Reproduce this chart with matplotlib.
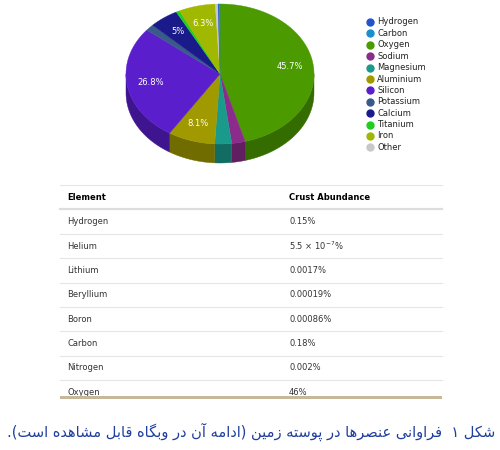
import unicodedata
import numpy as np
import matplotlib
matplotlib.use("Agg")
import matplotlib.pyplot as plt
from matplotlib.patches import Polygon
import matplotlib.colors as mc

elements = ["Hydrogen", "Carbon", "Oxygen", "Sodium", "Magnesium", "Aluminium",
            "Silicon", "Potassium", "Calcium", "Titanium", "Iron", "Other"]
colors = ["#2255cc", "#1a8fc9", "#4a9a00", "#8b2b8b", "#1a9a8a", "#a09a00",
          "#5a1ecc", "#3a5a8a", "#1a1a8a", "#22cc22", "#a0b800", "#c8c8c8"]
# clockwise order from 12 o'clock
pie_order = ["Oxygen", "Sodium", "Magnesium", "Aluminium", "Silicon", "Potassium",
             "Calcium", "Titanium", "Iron", "Other", "Hydrogen", "Carbon"]
pie_values = [45.7, 2.3, 2.9, 8.1, 26.8, 1.5, 5.0, 0.6, 6.3, 0.47, 0.15, 0.18]

table_header = ["Element", "Crust Abundance"]
table_elements = ["Hydrogen", "Helium", "Lithium", "Beryllium", "Boron", "Carbon", "Nitrogen", "Oxygen"]
table_values = ["0.15%", r"5.5 × 10$^{-7}$%", "0.0017%", "0.00019%", "0.00086%", "0.18%", "0.002%", "46%"]

caption = "شکل ۱  فراوانی عنصرها در پوسته زمین (ادامه آن در وبگاه قابل مشاهده است)."

RIGHT_ONLY = set("اآدذرزژوأإؤة")
def is_ar(c):
    return '\u0620' <= c <= '\u064A' or c in "پچژکگی"
def shape(s):
    out = []
    for i, c in enumerate(s):
        if not is_ar(c):
            out.append(c); continue
        p = s[i-1] if i > 0 else ''
        n = s[i+1] if i + 1 < len(s) else ''
        pj = bool(p) and is_ar(p) and p not in RIGHT_ONLY
        nj = bool(n) and is_ar(n) and c not in RIGHT_ONLY
        form = {(True, True): "MEDIAL", (True, False): "FINAL",
                (False, True): "INITIAL", (False, False): "ISOLATED"}[(pj, nj)]
        try:
            out.append(unicodedata.lookup(unicodedata.name(c) + " " + form + " FORM"))
        except KeyError:
            out.append(c)
    vis = ''.join(out)[::-1]
    return vis.translate(str.maketrans("()", ")("))

fig = plt.figure(figsize=(5, 4.5), dpi=100)
ax = fig.add_axes([0, 0, 1, 1])
ax.set_xlim(0, 500); ax.set_ylim(450, 0); ax.axis("off")

cx, cy, a, b, depth = 220, 74, 94, 70, 19
vals = np.array(pie_values)
cum = np.concatenate([[0], np.cumsum(vals)]) / vals.sum() * 360
cmap = dict(zip(elements, colors))

def pt(phi, dy=0):
    r = np.radians(phi)
    return cx + a * np.sin(r), cy - b * np.cos(r) + dy

# sides
for name, t1, t2 in zip(pie_order, cum[:-1], cum[1:]):
    s1, s2 = max(t1, 90), min(t2, 270)
    if s2 <= s1:
        continue
    ph = np.linspace(s1, s2, 60)
    top = [pt(p) for p in ph]
    bot = [pt(p, depth) for p in ph[::-1]]
    dark = np.array(mc.to_rgb(cmap[name])) * 0.7
    ax.add_patch(Polygon(top + bot, closed=True, fc=dark, ec=dark, lw=0.3))
# tops
for name, t1, t2 in zip(pie_order, cum[:-1], cum[1:]):
    ph = np.linspace(t1, t2, max(int((t2 - t1) * 2), 3))
    poly = [(cx, cy)] + [pt(p) for p in ph]
    ax.add_patch(Polygon(poly, closed=True, fc=cmap[name], ec=cmap[name], lw=0.3))
    v = (t2 - t1) / 360 * 100
    if v > 4:
        mid = (t1 + t2) / 2
        r = np.radians(mid)
        f = 0.75
        ax.text(cx + f * a * np.sin(r), cy - f * b * np.cos(r), f"{v:.1f}%".replace(".0%", "%"),
                color="white", fontsize=6, ha="center", va="center")

# legend
for i, (name, col) in enumerate(zip(elements, colors)):
    y = 22 + i * 11.4
    ax.plot(370, y, "o", ms=5, color=col)
    ax.text(377, y, name, fontsize=6, va="center", color="#222222")

# table
ax.plot([60, 442], [185, 185], color="#e6e6e6", lw=0.8)
ax.text(67, 197, table_header[0], fontsize=6, weight="bold", va="center")
ax.text(289, 197, table_header[1], fontsize=6, weight="bold", va="center")
ax.plot([60, 442], [209, 209], color="#dddddd", lw=1.6)
for i, (e, v) in enumerate(zip(table_elements, table_values)):
    y = 222 + i * 24.3
    ax.text(67, y, e, fontsize=6, va="center", color="#333333")
    ax.text(289, y, v, fontsize=6, va="center", color="#333333")
    if i < len(table_elements) - 1:
        ax.plot([60, 442], [y + 12, y + 12], color="#e6e6e6", lw=0.8)
ax.add_patch(Polygon([(60, 396), (442, 396), (442, 399), (60, 399)], fc="#c8b89a", ec="none", zorder=3))
ax.add_patch(Polygon([(60, 399), (442, 399), (442, 410), (60, 410)], fc="white", ec="none", zorder=3))

ax.text(495, 432, shape(caption), fontsize=10.5, color="#1f3f9f", ha="right", va="center",
        family=["DejaVu Sans", "Noto Sans"])

fig.savefig("out.png", dpi=100)
